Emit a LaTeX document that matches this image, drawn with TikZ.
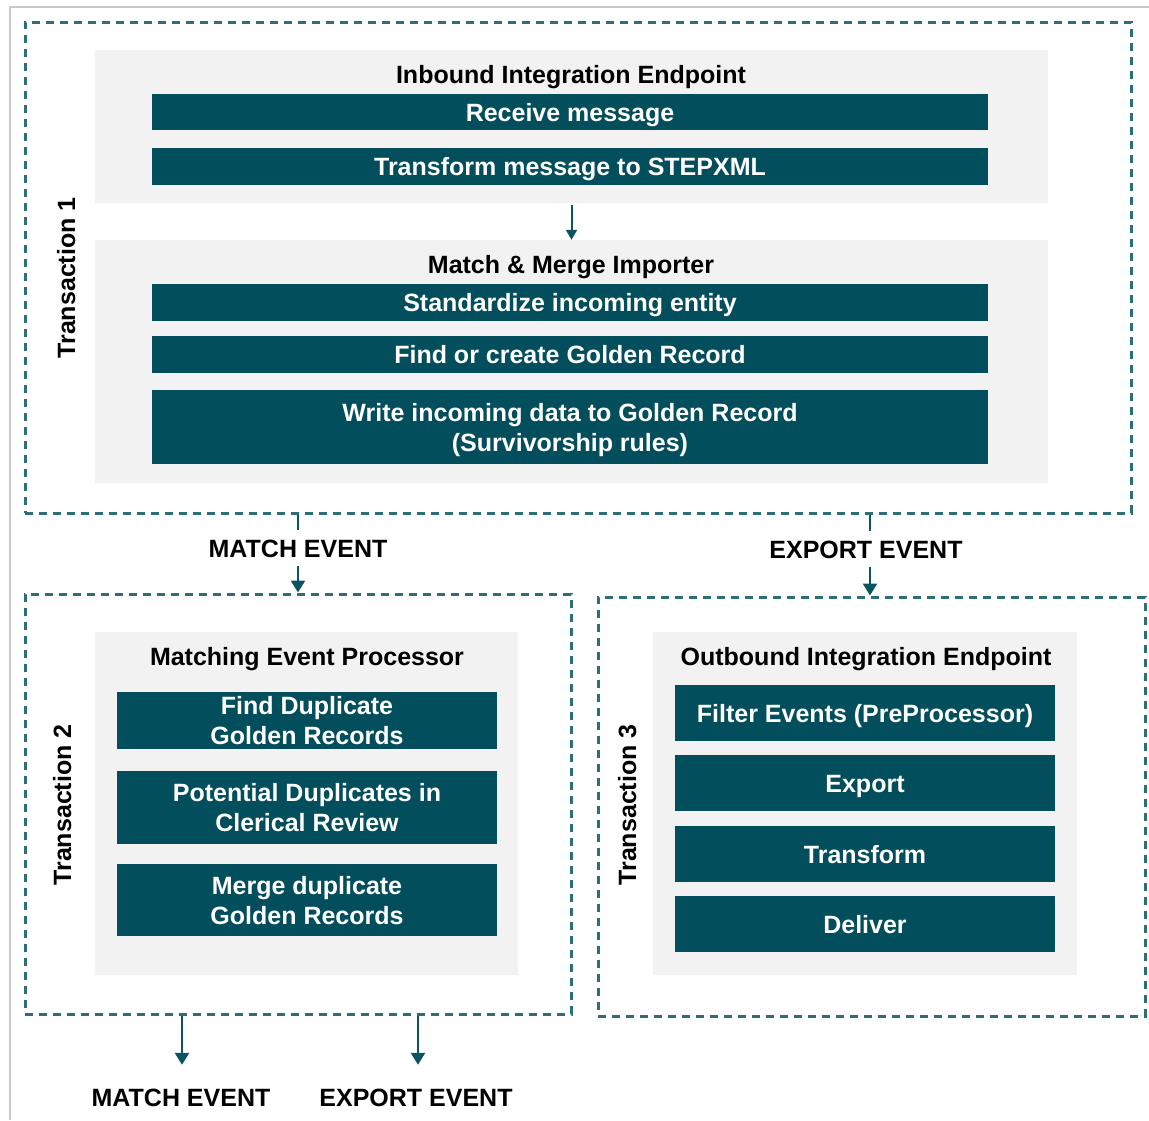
\documentclass[tikz,border=0pt]{standalone}
\usepackage{fontspec}
\setmainfont{Liberation Sans}
\usetikzlibrary{arrows.meta}
\definecolor{barc}{HTML}{034E5C}
\definecolor{dashc}{HTML}{2E6E79}
\definecolor{arrc}{HTML}{0B5563}
\definecolor{panelc}{HTML}{F2F2F2}
\definecolor{framec}{HTML}{C8C8C8}
\tikzset{
  tbox/.style={draw=dashc, line width=3pt, dash pattern=on 8pt off 6pt, rectangle, inner sep=0pt},
  panel/.style={fill=panelc, draw=none, rectangle, inner sep=0pt},
  bar/.style={fill=barc, draw=none, rectangle, inner sep=0pt, text=white, font=\fontsize{25}{30}\selectfont\bfseries, align=center, text height=18pt, text depth=0pt},
  bartwo/.style={bar, text height=48pt},
  ttl/.style={font=\fontsize{25}{30}\selectfont\bfseries, text=black, inner sep=0pt, text height=18pt, text depth=0pt},
  evt/.style={font=\fontsize{25}{30}\selectfont\bfseries, text=black, text height=18pt, text depth=0pt, inner xsep=0pt},
  conn/.style={draw=arrc, line width=2.5pt},
  arr/.style={conn, -{Triangle[width=14pt,length=12pt]}},
  sarr/.style={draw=arrc, line width=2pt, -{Triangle[width=11pt,length=10pt]}},
}
\begin{document}
\begin{tikzpicture}[x=1pt,y=-1pt]
\useasboundingbox (0,0) rectangle (1149,1120);
\draw[framec, line width=2pt] (10,1120) -- (10,7) -- (1149,7);

% transaction boxes
\node[tbox, minimum width=1106, minimum height=491] (t1) at (578,267.5) {};
\node[tbox, minimum width=546, minimum height=420] (t2) at (298,804) {};
\node[tbox, minimum width=547, minimum height=419] (t3) at (871.5,806.5) {};

\node[ttl, rotate=90] (l1) at (66,278) {Transaction 1};
\node[ttl, rotate=90] (l2) at (62,805) {Transaction 2};
\node[ttl, rotate=90] (l3) at (627,805) {Transaction 3};

% panels
\node[panel, minimum width=953, minimum height=153] (p1) at (571.5,126.5) {};
\node[panel, minimum width=953, minimum height=243] (p2) at (571.5,361.5) {};
\node[panel, minimum width=423, minimum height=343] (p3) at (306.5,803.5) {};
\node[panel, minimum width=424, minimum height=343] (p4) at (865,803.5) {};

% panel titles
\node[ttl] (h1) at (571,74) {Inbound Integration Endpoint};
\node[ttl] (h2) at (571,264) {Match \& Merge Importer};
\node[ttl] (h3) at (307,656) {Matching Event Processor};
\node[ttl] (h4) at (866,656) {Outbound Integration Endpoint};

% bars
\node[bar, minimum width=836, minimum height=36] (b1) at (570,112) {Receive message};
\node[bar, minimum width=836, minimum height=37] (b2) at (570,166.5) {Transform message to STEPXML};
\node[bar, minimum width=836, minimum height=37] (b3) at (570,302.5) {Standardize incoming entity};
\node[bar, minimum width=836, minimum height=37] (b4) at (570,354.5) {Find or create Golden Record};
\node[bartwo, minimum width=836, minimum height=74] (b5) at (570,427) {Write incoming data to Golden Record\\(Survivorship rules)};

\node[bartwo, minimum width=380, minimum height=57] (c1) at (307,720.5) {Find Duplicate\\Golden Records};
\node[bartwo, minimum width=380, minimum height=73] (c2) at (307,807.5) {Potential Duplicates in\\Clerical Review};
\node[bartwo, minimum width=380, minimum height=72] (c3) at (307,900) {Merge duplicate\\Golden Records};

\node[bar, minimum width=380, minimum height=56] (d1) at (865,713) {Filter Events (PreProcessor)};
\node[bar, minimum width=380, minimum height=56] (d2) at (865,783) {Export};
\node[bar, minimum width=380, minimum height=56] (d3) at (865,854) {Transform};
\node[bar, minimum width=380, minimum height=56] (d4) at (865,924) {Deliver};

% event labels
\node[evt, inner ysep=9pt] (me) at (298,548) {MATCH EVENT};
\node[evt, inner ysep=9pt] (ee) at (866,549) {EXPORT EVENT};
\node[evt, inner ysep=23pt] (mb) at (181,1097) {MATCH EVENT};
\node[evt, inner ysep=23pt] (eb) at (416,1097) {EXPORT EVENT};

% connectors
\draw[sarr] ([yshift=-2pt]p1.south) -- (p2.north);
\draw[conn] (t1.south -| me) -- (me.north);
\draw[arr] (me.south) -- (me.south |- t2.north);
\draw[conn] ([xshift=4pt]t1.south -| ee) -- ([xshift=4pt]ee.north);
\draw[arr] ([xshift=4pt]ee.south) -- ([xshift=4pt]ee.south |- t3.north);
\draw[arr] ([xshift=1pt]t2.south -| mb) -- ([xshift=1pt]mb.north);
\draw[arr] ([xshift=2pt]t2.south -| eb) -- ([xshift=2pt]eb.north);
\end{tikzpicture}
\end{document}
